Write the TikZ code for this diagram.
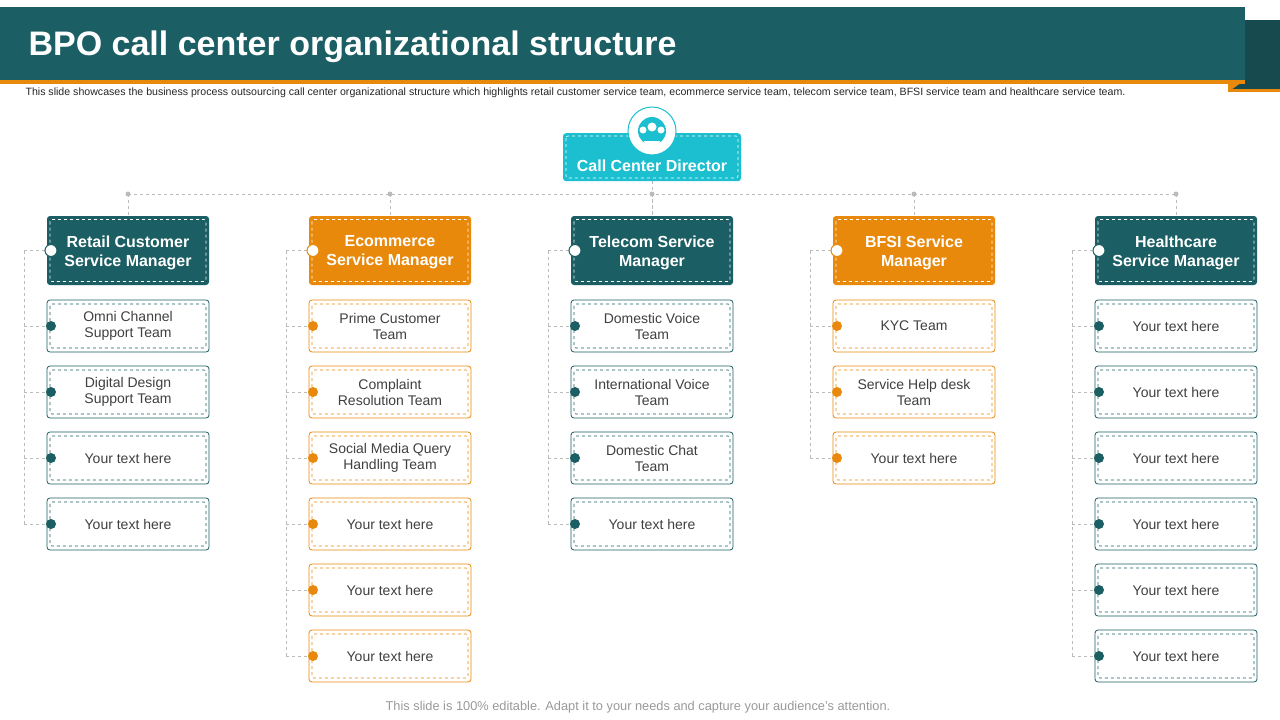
\documentclass[tikz,border=0pt]{standalone}
\usepackage{fontspec}
\setmainfont{Liberation Sans}
\usetikzlibrary{positioning}
\definecolor{teal1}{HTML}{1B5E63}
\definecolor{teal2}{HTML}{164A4F}
\definecolor{org}{HTML}{E8890C}
\definecolor{cyan1}{HTML}{1BBFCF}
\definecolor{gline}{HTML}{BBBBBB}
\tikzset{
 mgr/.style={rounded corners=3pt,minimum width=162pt,minimum height=69pt,align=center,text=white,font=\fontsize{16}{19}\selectfont\bfseries},
 sub/.style={draw=#1,line width=0.8pt,rounded corners=3pt,fill=white,minimum width=162pt,minimum height=52pt,align=center,text=black!75,font=\fontsize{14}{16}\selectfont},
 conn/.style={gline,dashed,line width=0.8pt},
}
\begin{document}
\begin{tikzpicture}[x=1pt,y=-1pt]
\useasboundingbox (0,0) rectangle (1280,720);
\fill[teal2] (1228,20) rectangle (1280,92);
\fill[org] (1228,80) -- (1245,80) -- (1228,92) -- cycle;
\fill[org] (0,80) rectangle (1245,84);
\fill[teal1] (0,7) rectangle (1245,80);
\fill[org] (1228,89) rectangle (1280,92);
\node[anchor=west,text=white,font=\fontsize{34}{38}\selectfont\bfseries] (title) at (25,47) {BPO call center organizational structure};
\node[anchor=west,font=\fontsize{10.6}{12}\selectfont,text=black!85] (sub) at (22,93) {This slide showcases the business process outsourcing call center organizational structure which highlights retail customer service team, ecommerce service team, telecom service team, BFSI service team and healthcare service team.};
\node[font=\fontsize{12.8}{14}\selectfont,text=black!40] (foot) at (638,707) {This slide is 100\% editable. Adapt it to your needs and capture your audience's attention.};
% bus
\coordinate (busL) at (128,194); \coordinate (busR) at (1176,194);
\draw[conn] (busL) -- (busR);
\coordinate (dirb) at (652,181);
\draw[conn] (dirb) -- (652,216);
% director
\node[fill=cyan1,rounded corners=3pt,minimum width=178pt,minimum height=48pt,anchor=north] (dir) at (652,133) {};
\node[text=white,font=\fontsize{16}{19}\selectfont\bfseries] (dirt) at (652,166) {Call Center Director};
\draw[white,dashed,line width=0.6pt,rounded corners=2pt] (566,136) rectangle (738,178);
\node[circle,fill=white,draw=cyan1,line width=1pt,minimum size=48pt] (icon) at (652,131) {};
\fill[cyan1] (652,131) circle (14);
\fill[white] (652,127) circle (4.5); \fill[white] (643,130) circle (3.5); \fill[white] (661,130) circle (3.5);
\fill[white] (644,141) arc (180:0:8 and 6) -- cycle;
\foreach \x/\col/\name/\lab/\items in {
 128/teal1/a/{Retail Customer\\Service Manager}/{{Omni Channel\\Support Team},{Digital Design\\Support Team},{Your text here},{Your text here}},
 390/org/b/{Ecommerce\\Service Manager}/{{Prime Customer\\Team},{Complaint\\Resolution Team},{Social Media Query\\Handling Team},{Your text here},{Your text here},{Your text here}},
 652/teal1/c/{Telecom Service\\Manager}/{{Domestic Voice\\Team},{International Voice\\Team},{Domestic Chat\\Team},{Your text here}},
 914/org/d/{BFSI Service\\Manager}/{{KYC Team},{Service Help desk\\Team},{Your text here}},
 1176/teal1/e/{Healthcare\\Service Manager}/{{Your text here},{Your text here},{Your text here},{Your text here},{Your text here},{Your text here}}}{
 \fill[gline] (\x,194) circle (2.5);
 \draw[conn] (\x,194) -- (\x,216);
 \node[mgr,fill=\col] (m\name) at (\x,250.5) {};
 \node[align=center,text=white,font=\fontsize{16}{19}\selectfont\bfseries] (mt\name) at (\x,252.5) {\lab};
 \draw[white,dashed,line width=0.6pt,rounded corners=2pt] (\x-78,219.5) rectangle (\x+78,281.5);
 \coordinate (l\name) at (\x-104,250.5);
 \draw[conn] (\x-77,250.5) -- (l\name);
 \foreach \t [count=\i] in \items {
   \pgfmathsetmacro{\yy}{326+66*(\i-1)}
   \node[sub=\col] (s\name\i) at (\x,\yy) {\t};
   \draw[\col,dashed,line width=0.6pt,rounded corners=2pt] (\x-78,\yy-22) rectangle (\x+78,\yy+22);
   \draw[conn] (\x-104,\yy) -- (\x-77,\yy);
   \fill[\col] (\x-77,\yy) circle (5);
   \xdef\lasty{\yy}
 }
 \draw[conn] (l\name) -- (\x-104,\lasty);
 \filldraw[fill=white,draw=\col,line width=1pt] (\x-77,250.5) circle (6);
}
\end{tikzpicture}
\end{document}
